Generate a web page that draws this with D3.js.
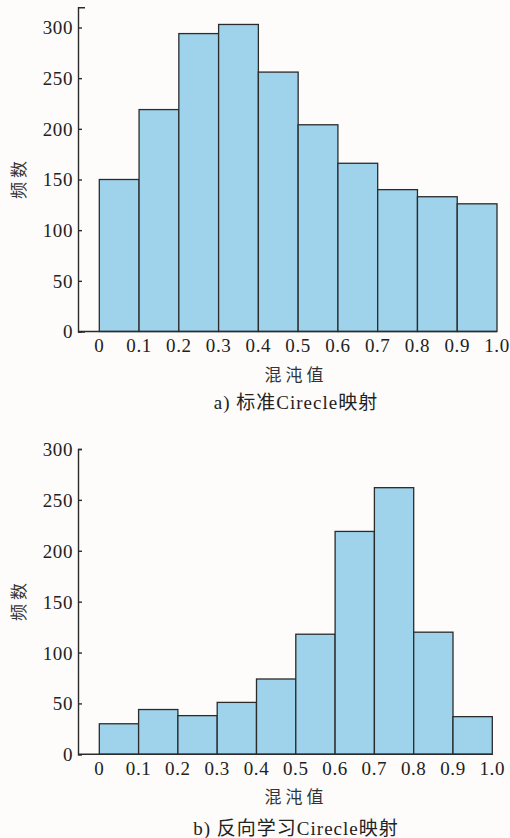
<!DOCTYPE html>
<html><head><meta charset="utf-8">
<script src="https://cdn.jsdelivr.net/npm/d3@7/dist/d3.min.js"></script>
<style>
html,body{margin:0;padding:0;background:#fdfcfb;}
svg{display:block;}
</style></head>
<body>
<svg id="c" width="510" height="838"></svg>
<script>
const binEdges = [0,0.1,0.2,0.3,0.4,0.5,0.6,0.7,0.8,0.9,1.0];
const xTickLabels = ["0","0.1","0.2","0.3","0.4","0.5","0.6","0.7","0.8","0.9","1.0"];
const yTicks = [0,50,100,150,200,250,300];
const countsA = [150,219,294,303,256,204,166,140,133,126];
const countsB = [30,44,38,51,74,118,219,262,120,37];
const xLabel = "混沌值";
const yLabel = "频数";
const titleA = "a) 标准Cirecle映射";
const titleB = "b) 反向学习Cirecle映射";

const svg = d3.select("#c");
const serif = "Liberation Serif, Times New Roman, serif";
const cjk = "Noto Sans CJK SC, sans-serif";
const fill = "#9fd3eb", stroke = "#2b2b2b", ink = "#222";

function drawHist(o){
  const x = d3.scaleLinear().domain([0,1]).range([o.x0,o.x1]);
  const y = d3.scaleLinear().domain([0,o.yMax]).range([o.y0, o.y0 - (o.y0-o.y300)*o.yMax/300]);
  const g = svg.append("g");
  const bins = o.counts.map((v,i)=>({x0:binEdges[i],x1:binEdges[i+1],v}));
  g.selectAll("rect").data(bins).join("rect")
    .attr("x",d=>x(d.x0)).attr("width",d=>x(d.x1)-x(d.x0))
    .attr("y",d=>y(d.v)).attr("height",d=>y(0)-y(d.v))
    .attr("fill",fill).attr("stroke",stroke).attr("stroke-width",1.3);
  const ya = d3.axisRight(y).tickValues(yTicks).tickSize(4).tickSizeOuter(o.yMax>300?7:4);
  const yg = g.append("g").attr("transform",`translate(${o.ax},0)`).call(ya);
  yg.selectAll("path,line").attr("stroke",stroke).attr("stroke-width",1.4);
  yg.selectAll("text").remove();
  yg.selectAll(".tick").append("text")
    .attr("x",-5).attr("dy","0.34em").attr("text-anchor","end")
    .attr("fill",ink).style("font-family",serif).style("font-size","19px").style("letter-spacing","0.6px")
    .text(d=>d);
  g.append("line").attr("x1",o.ax).attr("x2",x(1)).attr("y1",y(0)).attr("y2",y(0))
    .attr("stroke",stroke).attr("stroke-width",1.4);
  g.selectAll("text.xt").data(binEdges).join("text").attr("class","xt")
    .attr("x",d=>x(d)).attr("y",y(0)+14).attr("dy","0.34em").attr("text-anchor","middle")
    .attr("fill",ink).style("font-family",serif).style("font-size","19px").style("letter-spacing","0.6px")
    .text((d,i)=>xTickLabels[i]);
  g.append("text").attr("transform",`translate(19,${o.ylabY}) rotate(-90)`)
    .attr("text-anchor","middle").attr("dy","0.35em")
    .attr("fill","#333").style("font-family",cjk).style("font-size","17px").style("letter-spacing","4px")
    .text(yLabel);
  g.append("text").attr("x",296).attr("y",o.xlabY).attr("dy","0.35em").attr("text-anchor","middle")
    .attr("fill","#333").style("font-family",cjk).style("font-size","17px").style("letter-spacing","4px")
    .text(xLabel);
  g.append("text").attr("x",296).attr("y",o.titleY).attr("dy","0.35em").attr("text-anchor","middle")
    .attr("fill",ink).style("font-family",serif+", "+cjk).style("font-size","19px").style("letter-spacing","1px")
    .text(o.title);
}

drawHist({counts:countsA,x0:99.3,x1:497,ax:78,y0:331.5,y300:27.5,yMax:320,ylabY:178,xlabY:375,titleY:402,title:titleA});
drawHist({counts:countsB,x0:99.3,x1:492.3,ax:78,y0:754.3,y300:449,yMax:300,ylabY:600,xlabY:797,titleY:828,title:titleB});
</script>
</body></html>
